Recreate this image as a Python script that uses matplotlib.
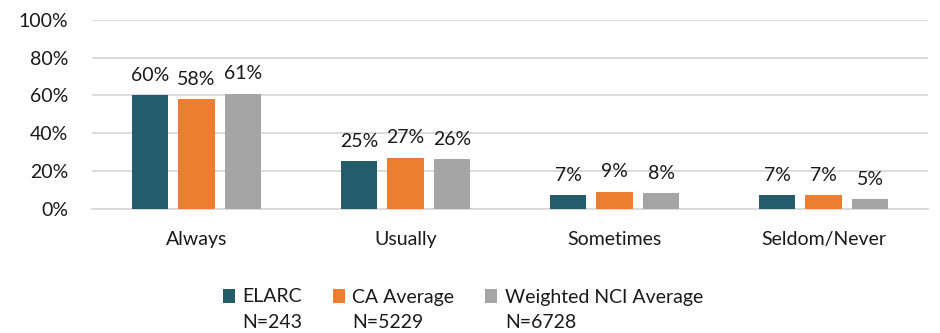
import matplotlib.pyplot as plt
import numpy as np
from matplotlib.patches import Patch

plt.rcParams['font.family'] = ['Lato', 'DejaVu Sans']

categories = ['Always', 'Usually', 'Sometimes', 'Seldom/Never']
elarc = [60, 25, 7, 7]
ca_avg = [58, 27, 9, 7]
nci_avg = [61, 26, 8, 5]
series_names = ['ELARC', 'CA Average', 'Weighted NCI Average']
series_n = ['N=243', 'N=5229', 'N=6728']
colors = ['#245C6C', '#ED7D31', '#A5A5A5']
fs = 14
txt_col = '#1a1a1a'

fig = plt.figure(figsize=(9.4, 3.33), dpi=100)
ax = fig.add_axes([92 / 940, 1 - 208.5 / 333, 836 / 940, 188.5 / 333])

x = np.arange(len(categories))
width = 0.177
step = 0.2225
for k, (vals, col) in enumerate(zip([elarc, ca_avg, nci_avg], colors)):
    pos = x + (k - 1) * step
    ax.bar(pos, vals, width, color=col, zorder=3)
    for px, v in zip(pos, vals):
        ax.annotate(f'{v}%', (px, v), xytext=(0, 8), textcoords='offset points',
                    ha='center', va='bottom', fontsize=fs, color=txt_col)

ax.set_xlim(-0.5, len(categories) - 0.5)
ax.set_ylim(0, 100)
ax.set_yticks(np.arange(0, 101, 20))
ax.set_yticklabels([f'{t}%' for t in range(0, 101, 20)])
ax.set_xticks(x)
ax.set_xticklabels(categories)
ax.tick_params(axis='both', length=0, labelsize=fs, labelcolor=txt_col)
ax.tick_params(axis='y', pad=17)
ax.tick_params(axis='x', pad=16)
ax.yaxis.grid(True, color='#D9D9D9', linewidth=1.3, zorder=0)
for s in ['top', 'right', 'left']:
    ax.spines[s].set_visible(False)
ax.spines['bottom'].set_color('#D9D9D9')
ax.spines['bottom'].set_linewidth(1.3)

# legend: names on the first line, sample sizes written underneath
handles = [Patch(facecolor=c) for c in colors]
leg = fig.legend(handles, series_names, loc='center', bbox_to_anchor=(463 / 940, 1 - 297 / 333),
                 ncol=3, frameon=False, fontsize=fs, handlelength=0.6, handleheight=0.7,
                 handletextpad=0.4, columnspacing=1.6, labelcolor=txt_col)
fig.canvas.draw()
inv = fig.transFigure.inverted()
for t, n in zip(leg.get_texts(), series_n):
    bb = t.get_window_extent()
    x0, y0 = inv.transform((bb.x0, bb.y0))
    fig.text(x0, y0 - 25 / 333, n, fontsize=fs, color=txt_col, ha='left', va='bottom')

fig.savefig('out.png', dpi=100)
